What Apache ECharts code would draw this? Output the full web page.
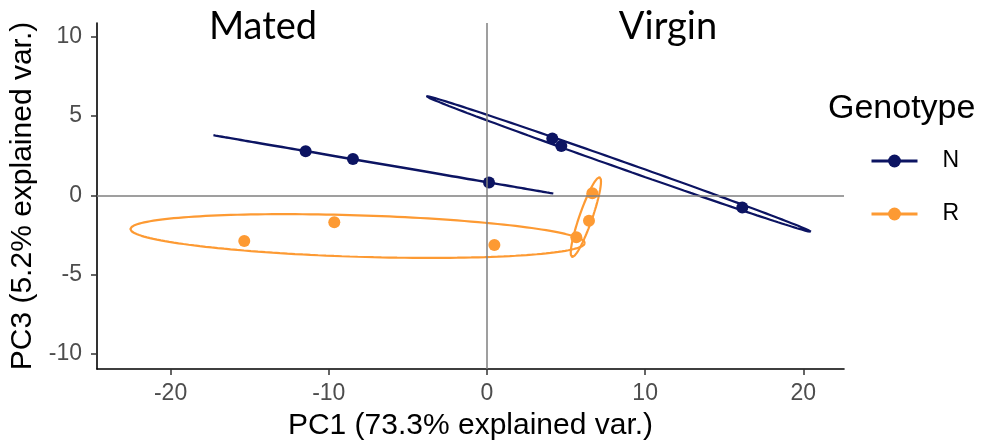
<!DOCTYPE html>
<html>
<head>
<meta charset="utf-8">
<script src="https://cdn.jsdelivr.net/npm/echarts@6/dist/echarts.min.js"></script>
<style>
  html, body { margin: 0; padding: 0; background: #fff; }
  #chart { width: 987px; height: 445px; }
</style>
</head>
<body>
<div id="chart"></div>
<script>
// PCA scores (PC1, PC3) per genotype and mating status
const genotypes = ['N', 'R'];
const groupLabels = ['Mated', 'Virgin'];
const nMated = [[-11.46, 2.79], [-8.47, 2.29], [0.13, 0.81]];
const nVirgin = [[4.13, 3.59], [4.70, 3.12], [16.14, -0.76]];
const rMated = [[-15.34, -2.88], [-9.65, -1.69], [0.47, -3.13]];
const rVirgin = [[5.65, -2.65], [6.45, -1.60], [6.66, 0.13]];
const xTicks = [-20, -10, 0, 10, 20];
const yTicks = [-10, -5, 0, 5, 10];
const xTitle = 'PC1 (73.3% explained var.)';
const yTitle = 'PC3 (5.2% explained var.)';
const legendTitle = 'Genotype';
const ellipseProb = 0.8;

const colors = { N: '#0c1462', R: '#fd9a33' };
const sans = '"Liberation Sans", Arial, sans-serif';

// Normal-data ellipse around a group: mean + r * chol(cov) * unit circle
function dataEllipse(pts, prob, steps) {
  const n = pts.length;
  const mx = pts.reduce((s, p) => s + p[0], 0) / n;
  const my = pts.reduce((s, p) => s + p[1], 0) / n;
  let sxx = 0, syy = 0, sxy = 0;
  pts.forEach(p => {
    const dx = p[0] - mx, dy = p[1] - my;
    sxx += dx * dx; syy += dy * dy; sxy += dx * dy;
  });
  sxx /= (n - 1); syy /= (n - 1); sxy /= (n - 1);
  const l11 = Math.sqrt(sxx);
  const l21 = sxy / l11;
  const l22 = Math.sqrt(Math.max(syy - l21 * l21, 0));
  const r = Math.sqrt(-2 * Math.log(1 - prob));
  const out = [];
  for (let i = 0; i <= steps; i++) {
    const t = (2 * Math.PI * i) / steps;
    const c = Math.cos(t), s = Math.sin(t);
    out.push([mx + r * l11 * c, my + r * (l21 * c + l22 * s)]);
  }
  return out;
}

function ellipseSeries(name, pts) {
  return {
    name: name,
    type: 'line',
    data: dataEllipse(pts, ellipseProb, 180),
    symbol: 'circle',
    showSymbol: false,
    smooth: false,
    silent: true,
    z: 2,
    itemStyle: { color: colors[name] },
    lineStyle: { color: colors[name], width: 2.2 }
  };
}

function pointSeries(name, pts) {
  return {
    name: name,
    type: 'scatter',
    data: pts,
    symbol: 'circle',
    symbolSize: 12,
    z: 4,
    itemStyle: { color: colors[name], opacity: 1 }
  };
}

const chart = echarts.init(document.getElementById('chart'), null, { renderer: 'canvas' });

const option = {
  animation: false,
  backgroundColor: '#fff',
  grid: { left: 97, right: 143, top: 23, bottom: 76, outerBoundsMode: 'none' },
  xAxis: {
    type: 'value',
    min: -24.65,
    max: 22.57,
    splitLine: { show: false },
    axisLine: { onZero: false, lineStyle: { color: '#000', width: 1.6 } },
    axisTick: { customValues: xTicks, length: 6, lineStyle: { color: '#333', width: 1.5 } },
    axisLabel: { customValues: xTicks, fontSize: 23, color: '#4d4d4d', margin: 13, fontFamily: sans },
    name: xTitle,
    nameLocation: 'middle',
    nameGap: 42,
    nameTextStyle: { fontSize: 30, color: '#000', fontFamily: sans }
  },
  yAxis: {
    type: 'value',
    min: -10.96,
    max: 10.88,
    splitLine: { show: false },
    axisLine: { onZero: false, lineStyle: { color: '#000', width: 1.6 } },
    axisTick: { customValues: yTicks, length: 6, lineStyle: { color: '#333', width: 1.5 } },
    axisLabel: { customValues: yTicks, fontSize: 23, color: '#4d4d4d', margin: 15, fontFamily: sans },
    name: yTitle,
    nameLocation: 'middle',
    nameGap: 56,
    nameTextStyle: { fontSize: 30, color: '#000', fontFamily: sans }
  },
  legend: {
    data: genotypes,
    orient: 'vertical',
    left: 865,
    top: 144,
    itemWidth: 46,
    itemHeight: 16,
    itemGap: 29,
    selectedMode: false,
    lineStyle: { width: 3 },
    textStyle: { fontSize: 23, lineHeight: 24, color: '#000', fontFamily: sans, padding: [0, 0, 0, 20] }
  },
  graphic: [
    { type: 'text', left: 828, top: 92, style: { text: legendTitle, font: '34px ' + sans, fill: '#000' } },
    { type: 'text', x: 263, y: 27, style: { text: groupLabels[0], font: '38px Lato, "Open Sans", sans-serif', fill: '#000', align: 'center', verticalAlign: 'middle' } },
    { type: 'text', x: 668, y: 27, style: { text: groupLabels[1], font: '38px Lato, "Open Sans", sans-serif', fill: '#000', align: 'center', verticalAlign: 'middle' } }
  ],
  series: [
    ellipseSeries('N', nMated),
    ellipseSeries('N', nVirgin),
    ellipseSeries('R', rMated),
    ellipseSeries('R', rVirgin),
    {
      // zero reference lines through the origin
      name: 'origin',
      type: 'scatter',
      data: [],
      silent: true,
      z: 3,
      markLine: {
        silent: true,
        symbol: 'none',
        label: { show: false },
        lineStyle: { color: '#7f7f7f', width: 1.5, type: 'solid' },
        emphasis: { disabled: true },
        data: [{ xAxis: 0 }, { yAxis: 0 }]
      }
    },
    pointSeries('N', nMated.concat(nVirgin)),
    pointSeries('R', rMated.concat(rVirgin))
  ]
};

chart.setOption(option);
</script>
</body>
</html>
